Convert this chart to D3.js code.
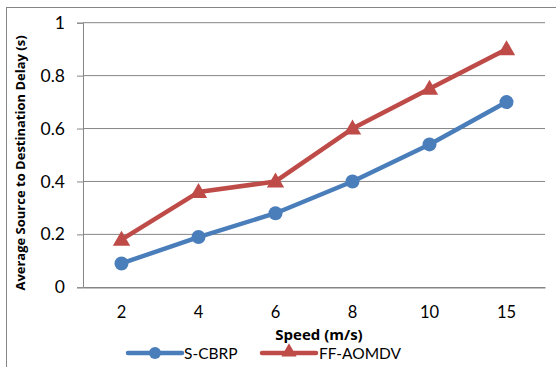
<!DOCTYPE html>
<html><head><meta charset="utf-8">
<script src="https://cdn.jsdelivr.net/npm/d3@7"></script>
<style>body{margin:0;background:#fff}svg{display:block}</style>
</head><body>
<script>
const categories = ["2","4","6","8","10","15"];
const sCBRP = [0.09, 0.19, 0.28, 0.40, 0.54, 0.70];
const ffAOMDV = [0.18, 0.36, 0.40, 0.60, 0.75, 0.90];
const yTicks = [0, 0.2, 0.4, 0.6, 0.8, 1];
const seriesNames = ["S-CBRP", "FF-AOMDV"];
const colors = ["#4a7ebb", "#be4b48"];

const W = 556, H = 367;
const svg = d3.select("body").append("svg").attr("width", W).attr("height", H);
const font = "Lato, 'Open Sans', sans-serif";
const bfont = "'Open Sans', sans-serif";

// outer border
svg.append("rect").attr("x", 6.5).attr("y", 7.5).attr("width", 560).attr("height", 370)
  .attr("fill", "none").attr("stroke", "#868686").attr("stroke-width", 1);

const L = 83, R = 545, T = 22.7, B = 287.3;
const x = d3.scaleBand().domain(categories).range([L, R]);
const y = d3.scaleLinear().domain([0, 1]).range([B, T]);

// gridlines
svg.append("g").selectAll("line").data(yTicks.filter(d => d > 0)).join("line")
  .attr("x1", L).attr("x2", R).attr("y1", d => y(d)).attr("y2", d => y(d))
  .attr("stroke", "#868686").attr("stroke-width", 1);

// y axis
const ya = svg.append("g").attr("transform", `translate(${L},0)`)
  .call(d3.axisLeft(y).tickValues(yTicks).tickFormat(d => d3.format("")(d)).tickSize(6).tickPadding(12));
ya.select(".domain").attr("stroke", "#868686");
ya.selectAll(".tick line").attr("stroke", "#868686");
ya.selectAll("text").attr("font-family", font).attr("font-size", 17.5).attr("fill", "#000");

// x axis
const xa = svg.append("g").attr("transform", `translate(0,${B})`)
  .call(d3.axisBottom(x).tickSize(0).tickPadding(19));
xa.select(".domain").attr("stroke", "#868686").attr("stroke-width", 1.5);
xa.selectAll("text").attr("font-family", font).attr("font-size", 16.5).attr("fill", "#000");

// titles
svg.append("text").attr("x", 319).attr("y", 339.5).attr("text-anchor", "middle")
  .attr("font-family", bfont).attr("font-weight", "bold").attr("font-size", 15).text("Speed (m/s)");
svg.append("text").attr("transform", "translate(24.5,163) rotate(-90)").attr("text-anchor", "middle")
  .attr("font-family", bfont).attr("font-weight", "bold").attr("font-size", 13)
  .text("Average Source to Destination Delay (s)");

const cx = d => x(d) + x.bandwidth() / 2;
const line = d3.line().x((d, i) => cx(categories[i])).y(d => y(d));
const tri = d3.symbol().type(d3.symbolTriangle).size(130);

[sCBRP, ffAOMDV].forEach((vals, k) => {
  svg.append("path").datum(vals).attr("d", line).attr("fill", "none")
    .attr("stroke", colors[k]).attr("stroke-width", 4.5).attr("stroke-linejoin", "round");
  const g = svg.append("g");
  vals.forEach((v, i) => {
    if (k === 0) g.append("circle").attr("cx", cx(categories[i])).attr("cy", y(v)).attr("r", 7).attr("fill", colors[k]);
    else g.append("path").attr("d", tri).attr("transform", `translate(${cx(categories[i])},${y(v) + 1})`).attr("fill", colors[k]);
  });
});

// legend
const legend = [{x1: 128, x2: 182, tx: 184}, {x1: 262, x2: 316, tx: 319}];
legend.forEach((l, k) => {
  const g = svg.append("g");
  g.append("line").attr("x1", l.x1).attr("x2", l.x2).attr("y1", 353).attr("y2", 353)
    .attr("stroke", colors[k]).attr("stroke-width", 4.5).attr("stroke-linecap", "round");
  const mx = (l.x1 + l.x2) / 2;
  if (k === 0) g.append("circle").attr("cx", mx).attr("cy", 353).attr("r", 6).attr("fill", colors[k]);
  else g.append("path").attr("d", d3.symbol().type(d3.symbolTriangle).size(100)).attr("transform", `translate(${mx},352)`).attr("fill", colors[k]);
  g.append("text").attr("x", l.tx).attr("y", 358.5).attr("font-family", font).attr("font-size", 15.5).text(seriesNames[k]);
});
</script>
</body></html>
